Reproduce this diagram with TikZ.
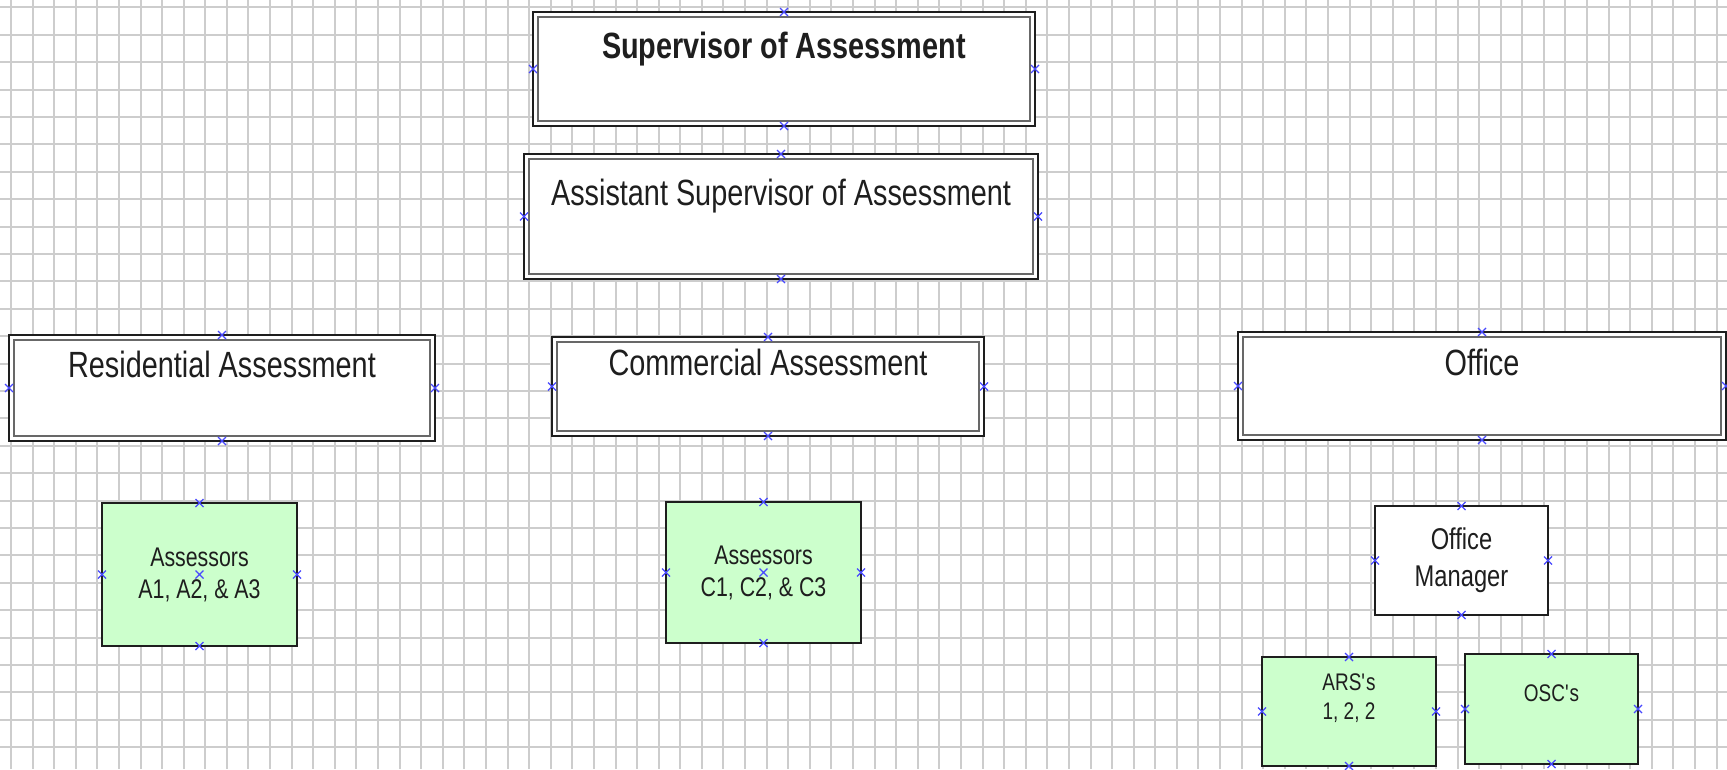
\documentclass[tikz,border=0pt]{standalone}
\usepackage{fontspec}
\setmainfont{Liberation Sans}[FakeStretch=0.79]
\usepackage{tikz}
\usetikzlibrary{calc}
\definecolor{gridln}{HTML}{CDCDCD}
\definecolor{leaf}{HTML}{CCFFCC}
\definecolor{ink}{HTML}{1E1E1E}
\definecolor{rim}{HTML}{686868}
\definecolor{hit}{HTML}{4848FF}

\begin{document}
\begin{tikzpicture}[x=1pt,y=-1pt,
  gridline/.style={gridln,line width=2pt},
  head/.style={draw=ink,line width=1.2pt,fill=white,outer sep=0pt,inner sep=3pt,
               font=\fontsize{36.5}{44}\selectfont,text=ink,
               text height=27pt,text depth=49pt},
  leafbox/.style={draw=ink,line width=1.3pt,fill=leaf,outer sep=0pt,align=center,
               font=\fontsize{27}{32}\selectfont,text=ink},
  mgrbox/.style={draw=ink,line width=1.3pt,fill=white,outer sep=0pt,align=center,
               font=\fontsize{30}{37}\selectfont,text=ink},
  staffbox/.style={draw=ink,line width=1.3pt,fill=leaf,outer sep=0pt,align=center,
               font=\fontsize{24}{29}\selectfont,text=ink},
  rimln/.style={rim,line width=2.4pt},
  hitx/.style={hit,line width=1.2pt}]
  \useasboundingbox (0,0) rectangle (1727,769);
  \fill[white] (0,0) rectangle (1727,769);
  % grid paper
  \foreach \k in {0,...,79} \draw[gridline] ({11+21.59*\k},0) -- ({11+21.59*\k},769);
  \foreach \k in {0,...,27} \draw[gridline] (0,{7.3+27.4*\k}) -- (1727,{7.3+27.4*\k});

  % top
  \node[head,minimum width=502pt,minimum height=114pt,font=\fontsize{36.5}{44}\selectfont\bfseries] (sup) at (784,69) {Supervisor of Assessment};
  \node[head,minimum width=514pt,minimum height=125pt] (asst) at (781,216.5) {Assistant Supervisor of Assessment};
  % departments
  \node[head,minimum width=426pt,minimum height=106pt] (res) at (222,388) {Residential Assessment};
  \node[head,minimum width=432pt,minimum height=99pt] (com) at (768,386.5) {Commercial Assessment};
  \node[head,minimum width=488pt,minimum height=108pt] (off) at (1482,386) {Office};
  \foreach \n in {sup,asst,res,com,off}
    \draw[rimln] ($(\n.north west)+(5,5)$) rectangle ($(\n.south east)+(-5,-5)$);
  % staff
  \node[leafbox,minimum width=195pt,minimum height=143pt] (ra) at (199.5,574.5) {Assessors\\A1, A2, \& A3};
  \node[leafbox,minimum width=195pt,minimum height=141pt] (ca) at (763.5,572.5) {Assessors\\C1, C2, \& C3};
  \node[mgrbox,minimum width=173pt,minimum height=109pt] (mgr) at (1461.5,560.5) {Office\\Manager};
  \node[staffbox,minimum width=174pt,minimum height=109pt] (ars) at (1349,711.5) {ARS\textquotesingle s\\1, 2, 2\\\mbox{}};
  \node[staffbox,minimum width=173pt,minimum height=110pt,text height=18pt,text depth=33pt] (osc) at (1551.5,709) {OSC\textquotesingle s};

  % connection points
  \foreach \n in {sup,asst,res,com,off,ra,ca,mgr,ars,osc}
    \foreach \a in {north,south,east,west}
      \draw[hitx] (\n.\a) ++(-4,-4) -- ++(8,8) ++(-8,0) -- ++(8,-8);
  \foreach \n in {ra,ca}
    \draw[hitx] (\n.center) ++(-4,-4) -- ++(8,8) ++(-8,0) -- ++(8,-8);
\end{tikzpicture}
\end{document}
